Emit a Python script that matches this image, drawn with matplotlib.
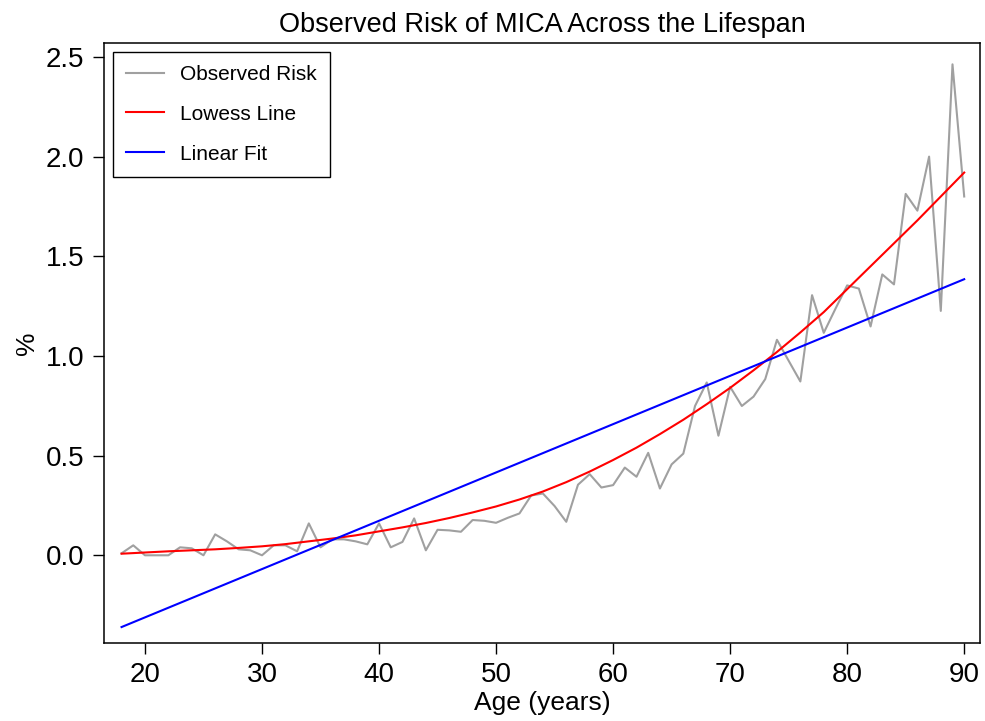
import numpy as np
import matplotlib
matplotlib.use("Agg")
import matplotlib.pyplot as plt

plt.rcParams['font.family'] = ['Liberation Sans', 'DejaVu Sans']

# observed risk (%) by age
ages = list(range(18, 91))
risk = [0.01, 0.05, 0.0, 0.0, 0.0, 0.04, 0.035, 0.0, 0.105, 0.07,
        0.03, 0.025, 0.0, 0.05, 0.05, 0.02, 0.16, 0.04, 0.08, 0.08,
        0.07, 0.055, 0.16, 0.04, 0.067, 0.185, 0.025, 0.128, 0.125, 0.118,
        0.177, 0.173, 0.163, 0.188, 0.21, 0.30, 0.31, 0.247, 0.168, 0.354,
        0.407, 0.34, 0.352, 0.44, 0.394, 0.514, 0.335, 0.456, 0.51, 0.749,
        0.867, 0.60, 0.845, 0.749, 0.796, 0.884, 1.081, 0.976, 0.872, 1.305,
        1.116, 1.237, 1.354, 1.338, 1.148, 1.409, 1.359, 1.813, 1.729, 2.0,
        1.226, 2.463, 1.80]

# lowess curve, read every two years
lowess_ages = list(range(18, 91, 2))
lowess_vals = [0.008, 0.014, 0.02, 0.025, 0.03, 0.037, 0.045, 0.056, 0.07, 0.084,
               0.10, 0.12, 0.14, 0.162, 0.187, 0.215, 0.245, 0.28, 0.32, 0.367,
               0.42, 0.478, 0.54, 0.608, 0.68, 0.758, 0.84, 0.928, 1.02, 1.118,
               1.22, 1.335, 1.45, 1.565, 1.68, 1.80, 1.92]

# linear fit end points
fit_ages = [18, 90]
fit_vals = [-0.36, 1.385]

fig = plt.figure(figsize=(9.85, 7.21), dpi=100)
ax = fig.add_axes([104/985, 78/721, 876/985, 600/721])

ax.plot(ages, risk, color='#a0a0a0', lw=1.5, label='Observed Risk')
ax.plot(lowess_ages, lowess_vals, color='red', lw=1.5, label='Lowess Line')
ax.plot(fit_ages, fit_vals, color='blue', lw=1.5, label='Linear Fit')

ax.set_xlim(16.5, 91.35)
ax.set_ylim(-0.44, 2.57)
ax.set_xticks(np.arange(20, 91, 10))
ax.set_yticks(np.arange(0, 2.6, 0.5))
ax.set_yticklabels(['0.0', '0.5', '1.0', '1.5', '2.0', '2.5'])
ax.tick_params(direction='out', length=8, width=1, labelsize=20, pad=6)

for s in ax.spines.values():
    s.set_linewidth(1.1)

ax.set_title('Observed Risk of MICA Across the Lifespan', fontsize=19.5, pad=8)
ax.set_xlabel('Age (years)', fontsize=19, labelpad=2)
ax.set_ylabel('%', fontsize=19, labelpad=5)

leg = ax.legend(loc='upper left', fontsize=15, handlelength=1.85, handletextpad=0.75,
                labelspacing=1.0, borderpad=0.62, borderaxespad=0, fancybox=False,
                framealpha=1, edgecolor='black', bbox_to_anchor=(0.0103, 0.985))
leg.get_frame().set_linewidth(1.0)

fig.savefig('out.png', dpi=100)
